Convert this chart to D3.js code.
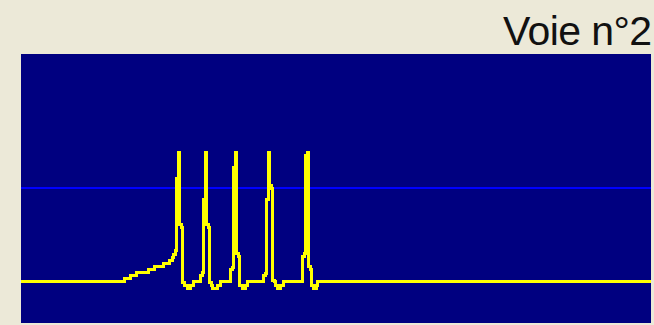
<!DOCTYPE html>
<html>
<head>
<meta charset="utf-8">
<script src="https://cdn.jsdelivr.net/npm/d3@7"></script>
<style>
  html, body { margin: 0; padding: 0; background: #ECE9D8; overflow: hidden; }
  svg { display: block; }
</style>
</head>
<body>
<svg id="chart" width="654" height="325"></svg>
<script>
// Channel label shown above the trace
const channelTitle = "Voie n°2";

// Vertical range of the display (mV) and horizontal span (ms)
const voltageDomain = [-100, 100];
const timeDomain = [0, 211];

// Horizontal reference level(s), mV
const referenceLevels = [0];

// Sampling: two samples per millisecond, first one at 0.25 ms
const samplePeriod = 0.5;
const firstSampleTime = 0.25;

// Membrane potential record, stored as [mV, number of consecutive samples]
const traceRuns = [
  [-70, 70], [-67.8, 4], [-65.5, 4], [-63.3, 8], [-61, 4], [-58.8, 6], [-56.5, 4], [-54.3, 2],
  // spike 1
  [-52, 1], [-49.3, 1], [-46.6, 1], [7.1, 1], [26.5, 1], [-27.2, 1], [-29.5, 1], [-70.4, 1],
  [-73, 2], [-75, 2], [-73, 2], [-70, 5], [-65.3, 1],
  // spike 2
  [-63.1, 1], [-8.6, 1], [26.5, 1], [-27.2, 1], [-29.5, 1], [-70.4, 1],
  [-73, 1], [-75, 3], [-73, 2], [-70, 7], [-60.8, 1],
  // spike 3
  [-59.3, 1], [15.3, 1], [26.5, 1], [-48.9, 1], [-51.1, 1], [-72.8, 1],
  [-73, 1], [-75, 2], [-73, 1], [-70, 11], [-65.3, 1],
  // spike 4
  [-63.8, 1], [-8.6, 1], [26.5, 1], [2.2, 1], [0, 1], [-69, 1],
  [-69.5, 1], [-72.8, 1], [-75, 2], [-72.8, 2], [-70, 13], [-51.1, 1],
  // spike 5
  [-48.9, 1], [24.3, 1], [26.5, 1], [-58.6, 1], [-60.8, 1], [-72.8, 1],
  [-75, 2], [-72.8, 1], [-70, 223]
];

// Expand the runs into individual samples
const samples = [];
traceRuns.forEach(([v, n]) => {
  for (let i = 0; i < n; i++) {
    samples.push({ t: firstSampleTime + samples.length * samplePeriod, v });
  }
});

const svg = d3.select("#chart");
const W = 654, H = 325;
const plot = { left: 21, top: 54, right: 651, bottom: 323 };

const x = d3.scaleLinear().domain(timeDomain).range([19, 652]);
const y = d3.scaleLinear().domain(voltageDomain).range([plot.bottom - 1, plot.top]);

svg.append("rect").attr("x", 0).attr("y", 0).attr("width", W).attr("height", H)
  .attr("fill", "#ECE9D8");

svg.append("defs").append("clipPath").attr("id", "plotClip")
  .append("rect")
  .attr("x", plot.left).attr("y", plot.top)
  .attr("width", plot.right - plot.left).attr("height", plot.bottom - plot.top);

svg.append("rect")
  .attr("x", plot.left).attr("y", plot.top)
  .attr("width", plot.right - plot.left).attr("height", plot.bottom - plot.top)
  .attr("fill", "#000080");

const g = svg.append("g").attr("clip-path", "url(#plotClip)");

// reference level line
g.selectAll("line.ref").data(referenceLevels).join("line")
  .attr("class", "ref")
  .attr("x1", plot.left).attr("x2", plot.right)
  .attr("y1", d => y(d)).attr("y2", d => y(d))
  .attr("stroke", "#0000FF").attr("stroke-width", 2.5)
  .attr("shape-rendering", "crispEdges");

// membrane potential trace, drawn sample-and-hold like the acquisition display
const line = d3.line().curve(d3.curveStep).x(d => x(d.t)).y(d => y(d.v));
g.append("path")
  .datum(samples)
  .attr("d", line)
  .attr("fill", "none")
  .attr("stroke", "#FFFF00")
  .attr("stroke-width", 3)
  .attr("shape-rendering", "crispEdges");

// channel title
svg.append("text")
  .attr("x", 651.5).attr("y", 45)
  .attr("text-anchor", "end")
  .attr("font-family", "'Liberation Sans', Arial, sans-serif")
  .attr("font-size", 41)
  .attr("letter-spacing", "-0.6px")
  .attr("fill", "#111")
  .text(channelTitle);
</script>
</body>
</html>
